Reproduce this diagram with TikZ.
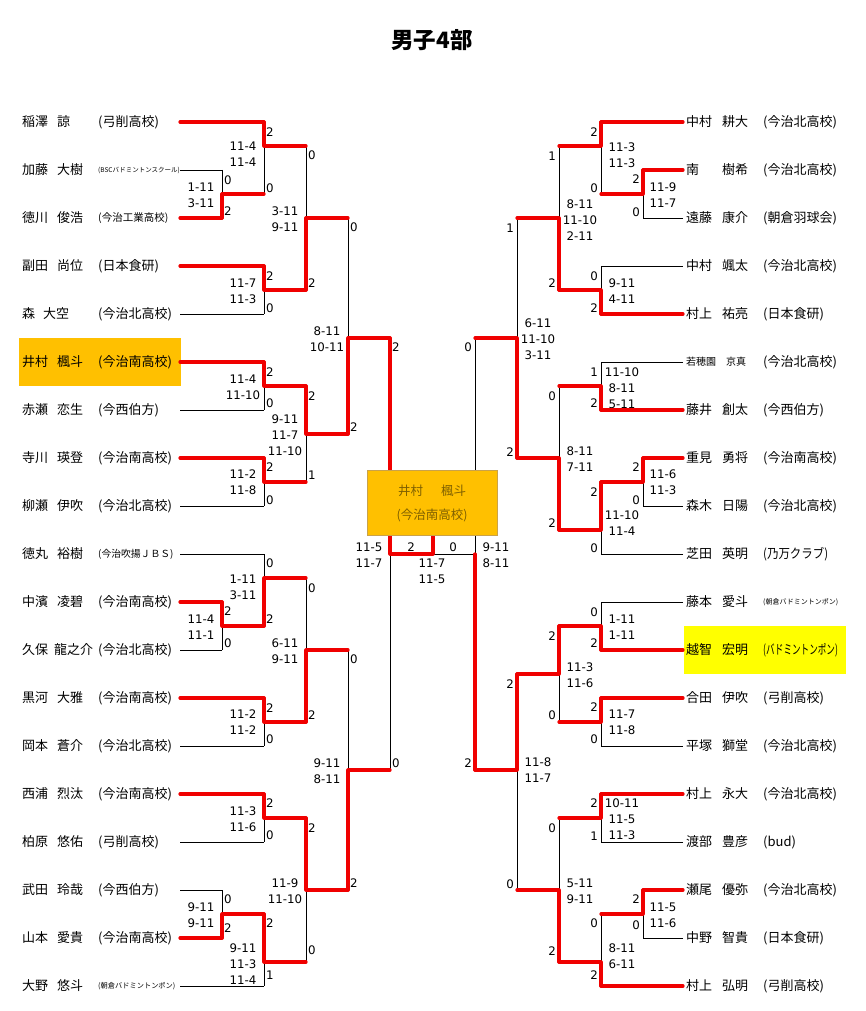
\documentclass[tikz,border=0pt]{standalone}
\usepackage{fontspec}
\usepackage{graphicx}
\setmainfont{Noto Sans CJK JP}
\newfontfamily\dvs{DejaVu Sans}
\definecolor{gold}{HTML}{FFC000}
\definecolor{ylw}{HTML}{FFFF00}
\definecolor{bred}{HTML}{F00000}
\definecolor{boxtxt}{HTML}{7F6000}
\definecolor{boxbd}{HTML}{C9A24A}
\pgfdeclarelayer{fg}
\pgfdeclarelayer{top}
\pgfsetlayers{main,fg,top}
\newcounter{nd}
\tikzset{
  ln/.style={line width=0.9pt, black},
  rd/.style={line width=3.2pt, color=bred, line cap=round, line join=round},
  nm/.style={font=\fontsize{13}{15}\selectfont, inner sep=0pt, anchor=west},
  sc/.style={font=\dvs\fontsize{11.8}{14}\selectfont, inner sep=0pt, anchor=center},
  dg/.style={font=\dvs\fontsize{11.8}{14}\selectfont, inner sep=0pt},
}
\newcommand\mt[6]{\draw[ln] (#1,#2) -- (#1,#3);
  \begin{pgfonlayer}{fg}\draw[rd] (#1,#5) -- (#1,#4) -- (#6,#4);\end{pgfonlayer}}
\newcommand\plb[3]{\draw[ln] (#1,#3) -- (#2,#3);}
\newcommand\plr[3]{\begin{pgfonlayer}{fg}\draw[rd] (#1,#3) -- (#2,#3);\end{pgfonlayer}}
\newcommand\two[4]{\stepcounter{nd}\edef\tn{\arabic{nd}}%
  \node[sc] (s\tn a) at (#1,#2) {#3}; \node[sc] (s\tn b) at (#1,#2+16) {#4};}
\newcommand\three[5]{\stepcounter{nd}\edef\tn{\arabic{nd}}%
  \node[sc] (s\tn a) at (#1,#2) {#3}; \node[sc] (s\tn b) at (#1,#2+16) {#4};
  \node[sc] (s\tn c) at (#1,#2+32) {#5};}
\newcommand\dl[3]{\stepcounter{nd}\edef\tn{\arabic{nd}}\node[dg,anchor=west] (d\tn) at (#1+2,#2) {#3};}
\newcommand\dr[3]{\stepcounter{nd}\edef\tn{\arabic{nd}}\node[dg,anchor=east] (d\tn) at (#1-3,#2) {#3};}
\newcommand\lp[6]{\node[nm] (#1a) at (22,#2) {#3}; \node[nm] (#1b) at (#4,#2) {#5};
  \node[nm] (#1c) at (98,#2) {#6};}
\newcommand\rp[5]{\node[nm] (#1a) at (686,#2) {#3}; \node[nm] (#1b) at (722,#2) {#4};
  \node[nm] (#1c) at (763,#2) {#5};}
\begin{document}
\begin{tikzpicture}[x=1pt,y=-1pt]
\useasboundingbox (0,0) rectangle (865,1011);
\fill[white] (0,0) rectangle (865,1011);
% highlights
\fill[gold] (19,338) rectangle (181,386);
\fill[ylw] (684,626) rectangle (846,674);
% title
\node[font=\bfseries\fontsize{22.5}{26}\selectfont, inner sep=0pt] (title) at (432,40) {男子4部};
% ---------- left player lines
\plr{180}{264}{122}
\plb{180}{222}{170}
\plr{180}{222}{218}
\plr{180}{264}{266}
\plb{180}{264}{314}
\plr{180}{264}{362}
\plb{180}{264}{410}
\plr{180}{264}{458}
\plb{180}{264}{506}
\plb{180}{264}{554}
\plr{180}{222}{602}
\plb{180}{222}{650}
\plr{180}{264}{698}
\plb{180}{264}{746}
\plr{180}{264}{794}
\plb{180}{264}{842}
\plb{180}{222}{890}
\plr{180}{222}{938}
\plb{180}{264}{986}
% ---------- right player lines
\plr{683}{601}{122}
\plr{683}{643}{170}
\plb{683}{643}{218}
\plb{683}{601}{266}
\plr{683}{601}{314}
\plb{683}{601}{362}
\plr{683}{601}{410}
\plr{683}{643}{458}
\plb{683}{643}{506}
\plb{683}{601}{554}
\plb{683}{601}{602}
\plr{683}{601}{650}
\plr{683}{601}{698}
\plb{683}{601}{746}
\plr{683}{601}{794}
\plb{683}{601}{842}
\plr{683}{643}{890}
\plb{683}{643}{938}
\plr{683}{601}{986}
% ---------- left matches
\mt{222}{170}{218}{194}{218}{264}
\mt{264}{122}{194}{146}{122}{306}
\mt{264}{266}{314}{290}{266}{306}
\mt{306}{146}{290}{218}{290}{348}
\mt{264}{362}{410}{386}{362}{306}
\mt{264}{458}{506}{482}{458}{306}
\mt{306}{386}{482}{434}{386}{348}
\mt{348}{218}{434}{338}{434}{390}
\mt{222}{602}{650}{626}{602}{264}
\mt{264}{554}{626}{578}{626}{306}
\mt{264}{698}{746}{722}{698}{306}
\mt{306}{578}{722}{650}{722}{348}
\mt{264}{794}{842}{818}{794}{306}
\mt{222}{890}{938}{914}{938}{264}
\mt{264}{914}{986}{962}{914}{306}
\mt{306}{818}{962}{890}{818}{348}
\mt{348}{650}{890}{770}{890}{390}
% ---------- right matches
\mt{643}{170}{218}{194}{170}{601}
\mt{601}{122}{194}{146}{122}{559}
\mt{601}{266}{314}{290}{314}{559}
\mt{559}{146}{290}{218}{290}{517}
\mt{601}{362}{410}{386}{410}{559}
\mt{643}{458}{506}{482}{458}{601}
\mt{601}{482}{554}{530}{482}{559}
\mt{559}{386}{530}{458}{530}{517}
\mt{517}{218}{458}{338}{458}{475}
\mt{601}{602}{650}{626}{650}{559}
\mt{601}{698}{746}{722}{698}{559}
\mt{559}{626}{722}{674}{626}{517}
\mt{601}{794}{842}{818}{794}{559}
\mt{643}{890}{938}{914}{890}{601}
\mt{601}{914}{986}{962}{986}{559}
\mt{559}{818}{962}{890}{962}{517}
\mt{517}{674}{890}{770}{674}{475}
% ---------- semifinals and final
\draw[ln] (390,338) -- (390,770);
\draw[ln] (475,338) -- (475,770);
\draw[ln] (433,554) -- (475,554);
\begin{pgfonlayer}{fg}
\draw[rd] (390,338) -- (390,554) -- (433,554) -- (433,535);
\draw[rd] (475,770) -- (475,554);
\end{pgfonlayer}
\begin{pgfonlayer}{top}
\node[fill=gold, draw=boxbd, line width=0.8pt, minimum width=130pt, minimum height=65pt, inner sep=0pt] (champ) at (432,502.5) {};
\node[font=\fontsize{12.5}{14}\selectfont, text=boxtxt, inner sep=0pt] (champn) at (432,491) {井村\hspace{18pt}楓斗};
\node[font=\fontsize{12.5}{14}\selectfont, text=boxtxt, inner sep=0pt] (champs) at (432,515) {(今治南高校)};
\end{pgfonlayer}
% ---------- left names
\lp{a1}{122}{稲澤}{57}{諒}{(弓削高校)}
\lp{a2}{170}{加藤}{57}{大樹}{\fontsize{6.5}{7}\selectfont (BSCバドミントンスクール)}
\lp{a3}{218}{徳川}{57}{俊浩}{\fontsize{10.5}{12}\selectfont (今治工業高校)}
\lp{a4}{266}{副田}{57}{尚位}{(日本食研)}
\lp{a5}{314}{森}{43}{大空}{(今治北高校)}
\lp{a6}{362}{井村}{57}{楓斗}{(今治南高校)}
\lp{a7}{410}{赤瀬}{57}{恋生}{(今西伯方)}
\lp{a8}{458}{寺川}{57}{瑛登}{(今治南高校)}
\lp{a9}{506}{柳瀬}{57}{伊吹}{(今治北高校)}
\lp{a10}{554}{徳丸}{57}{裕樹}{\fontsize{9.8}{11}\selectfont (今治吹揚ＪＢＳ)}
\lp{a11}{602}{中濱}{57}{凌碧}{(今治南高校)}
\lp{a12}{650}{久保}{54}{龍之介}{(今治北高校)}
\lp{a13}{698}{黒河}{57}{大雅}{(今治南高校)}
\lp{a14}{746}{岡本}{57}{蒼介}{(今治北高校)}
\lp{a15}{794}{西浦}{57}{烈汰}{(今治南高校)}
\lp{a16}{842}{柏原}{57}{悠佑}{(弓削高校)}
\lp{a17}{890}{武田}{57}{玲哉}{(今西伯方)}
\lp{a18}{938}{山本}{57}{愛貴}{(今治南高校)}
\lp{a19}{986}{大野}{57}{悠斗}{\fontsize{7.2}{8}\selectfont (朝倉バドミントンポン)}
% ---------- right names
\rp{b1}{122}{中村}{耕大}{(今治北高校)}
\rp{b2}{170}{南}{樹希}{(今治北高校)}
\rp{b3}{218}{遠藤}{康介}{(朝倉羽球会)}
\rp{b4}{266}{中村}{颯太}{(今治北高校)}
\rp{b5}{314}{村上}{祐亮}{(日本食研)}
\node[nm,font=\fontsize{10}{12}\selectfont] (b6a) at (686,362) {若穂園\hspace{10pt}京真};
\node[nm] (b6c) at (763,362) {(今治北高校)};
\rp{b7}{410}{藤井}{創太}{(今西伯方)}
\rp{b8}{458}{重見}{勇将}{(今治南高校)}
\rp{b9}{506}{森木}{日陽}{(今治北高校)}
\rp{b10}{554}{芝田}{英明}{\scalebox{0.88}[1]{(乃万クラブ)}}
\rp{b11}{602}{藤本}{愛斗}{\fontsize{7}{8}\selectfont (朝倉バドミントンポン)}
\rp{b12}{650}{越智}{宏明}{\scalebox{0.66}[1]{(バドミントンポン)}}
\rp{b13}{698}{合田}{伊吹}{(弓削高校)}
\rp{b14}{746}{平塚}{獅堂}{(今治北高校)}
\rp{b15}{794}{村上}{永大}{(今治北高校)}
\rp{b16}{842}{渡部}{豊彦}{(bud)}
\rp{b17}{890}{瀬尾}{優弥}{(今治北高校)}
\rp{b18}{938}{中野}{智貴}{(日本食研)}
\rp{b19}{986}{村上}{弘明}{(弓削高校)}
% ---------- left scores
\two{201}{187}{1-11}{3-11}
\two{243}{146}{11-4}{11-4}
\two{243}{283}{11-7}{11-3}
\two{285}{211}{3-11}{9-11}
\two{243}{379}{11-4}{11-10}
\two{243}{474}{11-2}{11-8}
\three{285}{419}{9-11}{11-7}{11-10}
\two{327}{331}{8-11}{10-11}
\two{369}{547}{11-5}{11-7}
\two{201}{619}{11-4}{11-1}
\two{243}{579}{1-11}{3-11}
\two{243}{714}{11-2}{11-2}
\two{285}{643}{6-11}{9-11}
\two{243}{811}{11-3}{11-6}
\two{201}{907}{9-11}{9-11}
\three{243}{948}{9-11}{11-3}{11-4}
\two{285}{883}{11-9}{11-10}
\two{327}{763}{9-11}{8-11}
% ---------- right scores
\two{663}{187}{11-9}{11-7}
\two{622}{147}{11-3}{11-3}
\two{622}{283}{9-11}{4-11}
\three{580}{204}{8-11}{11-10}{2-11}
\three{622}{372}{11-10}{8-11}{5-11}
\two{663}{474}{11-6}{11-3}
\two{622}{515}{11-10}{11-4}
\two{580}{451}{8-11}{7-11}
\three{538}{323}{6-11}{11-10}{3-11}
\two{496}{547}{9-11}{8-11}
\two{622}{619}{1-11}{1-11}
\two{622}{714}{11-7}{11-8}
\two{580}{667}{11-3}{11-6}
\three{622}{803}{10-11}{11-5}{11-3}
\two{663}{907}{11-5}{11-6}
\two{622}{948}{8-11}{6-11}
\two{580}{883}{5-11}{9-11}
\two{538}{762}{11-8}{11-7}
% final
\two{432}{563}{11-7}{11-5}
\node[dg] (f2) at (411,547) {2};
\node[dg] (f0) at (453,547) {0};
% ---------- left digits
\dl{222}{180}{0} \dl{222}{211}{2}
\dl{264}{132}{2} \dl{264}{188}{0}
\dl{306}{155}{0} \dl{306}{283}{2}
\dl{264}{276}{2} \dl{264}{308}{0}
\dl{348}{227}{0} \dl{348}{427}{2}
\dl{390}{347}{2} \dl{390}{763}{0}
\dl{264}{372}{2} \dl{264}{403}{0}
\dl{306}{396}{2} \dl{306}{475}{1}
\dl{264}{467}{2} \dl{264}{500}{0}
\dl{264}{563}{0} \dl{264}{619}{2}
\dl{222}{611}{2} \dl{222}{643}{0}
\dl{306}{588}{0} \dl{306}{715}{2}
\dl{264}{708}{2} \dl{264}{739}{0}
\dl{348}{659}{0} \dl{348}{883}{2}
\dl{264}{803}{2} \dl{264}{835}{0}
\dl{306}{828}{2} \dl{306}{950}{0}
\dl{222}{899}{0} \dl{222}{928}{2}
\dl{264}{923}{2} \dl{264}{975}{1}
% ---------- right digits
\dr{643}{179}{2} \dr{643}{212}{0}
\dr{601}{132}{2} \dr{601}{188}{0}
\dr{601}{276}{0} \dr{601}{308}{2}
\dr{559}{156}{1} \dr{559}{283}{2}
\dr{517}{228}{1} \dr{517}{452}{2}
\dr{475}{347}{0} \dr{475}{763}{2}
\dr{601}{372}{1} \dr{601}{403}{2}
\dr{559}{396}{0} \dr{559}{523}{2}
\dr{643}{467}{2} \dr{643}{500}{0}
\dr{601}{492}{2} \dr{601}{548}{0}
\dr{601}{612}{0} \dr{601}{643}{2}
\dr{559}{636}{2} \dr{559}{715}{0}
\dr{517}{684}{2} \dr{517}{884}{0}
\dr{601}{707}{2} \dr{601}{739}{0}
\dr{601}{803}{2} \dr{601}{836}{1}
\dr{559}{828}{0} \dr{559}{951}{2}
\dr{643}{899}{2} \dr{643}{925}{0}
\dr{601}{923}{0} \dr{601}{975}{2}
\end{tikzpicture}
\end{document}
